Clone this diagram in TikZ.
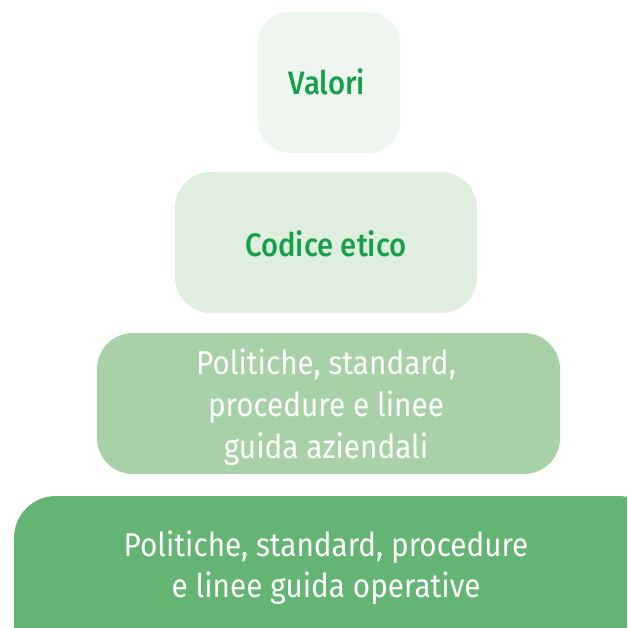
\documentclass[tikz,border=0pt]{standalone}
\usepackage{fontspec}
\setmainfont{Fira Sans}[FakeStretch=0.9]
\newfontfamily\medfont{Fira Sans Medium}[FakeStretch=0.9]
\definecolor{lev1}{HTML}{EEF6EF}
\definecolor{lev2}{HTML}{DFEEDF}
\definecolor{lev3}{HTML}{A9D1A8}
\definecolor{lev4}{HTML}{64B474}
\definecolor{txtgreen}{HTML}{17A04B}
\tikzset{
  lvl/.style={rectangle, inner sep=0pt, align=center},
  darktxt/.style={text=txtgreen, font=\fontsize{32.5}{41}\selectfont\medfont},
  lighttxt/.style={text=white}
}
\begin{document}
\begin{tikzpicture}[x=1pt,y=-1pt]
\useasboundingbox (0,0) rectangle (627,628);
\clip (0,0) rectangle (627,628);
\fill[lev1, rounded corners=32pt] (258,12) rectangle (400,153);
\fill[lev2, rounded corners=36pt] (175,172) rectangle (477,313);
\fill[lev3, rounded corners=36pt] (97,333) rectangle (560,474);
\fill[lev4, rounded corners=42pt] (14,496) rectangle (660,680);
\node[lvl, darktxt] (valori) at (327,82) {Valori};
\node[lvl, darktxt] (codice) at (326,244) {Codice etico};
\node[lvl, lighttxt, font=\fontsize{33}{42}\selectfont] (aziendali) at (326,407) {Politiche, standard,\\procedure e linee\\guida aziendali};
\node[lvl, lighttxt, font=\fontsize{33}{41}\selectfont] (operative) at (326,568) {Politiche, standard, procedure\\e linee guida operative};
\end{tikzpicture}
\end{document}
